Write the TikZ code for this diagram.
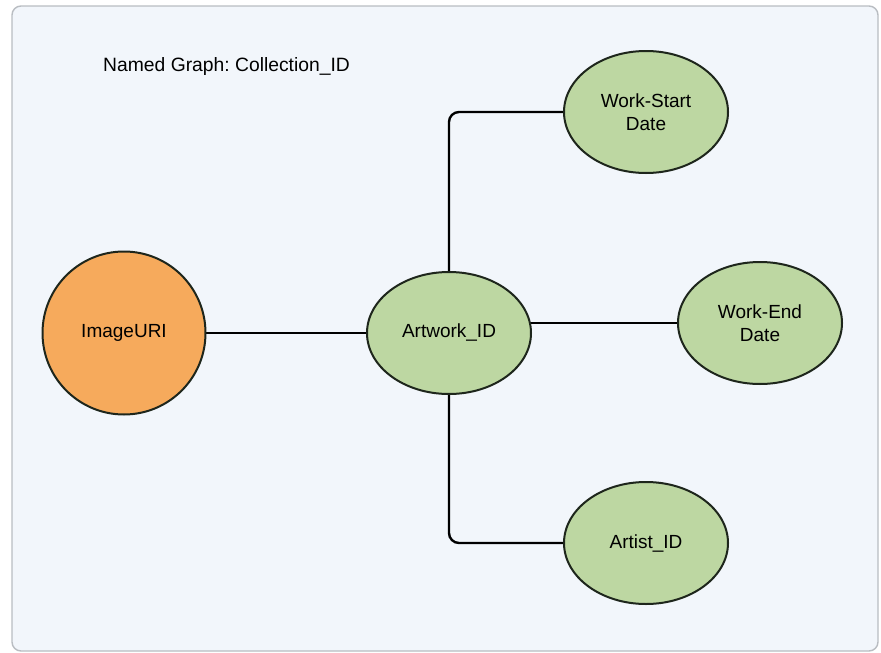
\documentclass[tikz,border=0pt]{standalone}
\usepackage{fontspec}
\setmainfont{Liberation Sans}
\usetikzlibrary{shapes.geometric,backgrounds}
\frenchspacing

\definecolor{panelfill}{HTML}{F2F6FB}
\definecolor{panelline}{HTML}{B9BDC2}
\definecolor{orangefill}{HTML}{F6AA5C}
\definecolor{greenfill}{HTML}{BDD7A2}
\definecolor{nodeline}{HTML}{1E261C}

\tikzset{
  panel/.style={draw=panelline, line width=1.4pt, fill=panelfill, rounded corners=9pt},
  resource/.style={circle, draw=nodeline, line width=2pt, fill=orangefill,
    minimum size=163pt, inner sep=0pt, font=\fontsize{19}{22.5}\selectfont},
  literal/.style={ellipse, draw=nodeline, line width=2pt, fill=greenfill,
    minimum width=164pt, minimum height=122pt, inner sep=0pt, align=center,
    font=\fontsize{19}{22.5}\selectfont},
  link/.style={draw=black, line width=2.4pt},
  elbow/.style={link, rounded corners=10pt},
  caption/.style={anchor=base west, inner sep=0pt, font=\fontsize{19.3}{23}\selectfont}
}

\begin{document}
\begin{tikzpicture}[x=1pt, y=-1pt]
  \useasboundingbox (0,0) rectangle (881,653);

  \node[caption] (title) at (103,71) {Named Graph: Collection\_ID};

  % resources
  \node[resource] (img) at (124,333) {ImageURI};
  \node[literal]  (art) at (449,333) {Artwork\_ID};
  \node[literal]  (ws)  at (646,112) {Work-Start\\Date};
  \node[literal]  (we)  at (760,323) {Work-End\\Date};
  \node[literal]  (ai)  at (646,543) {Artist\_ID};

  % page, graph panel and connectors, all kept behind the nodes
  \begin{pgfonlayer}{background}
    \fill[white] (0,0) rectangle (881,653);
    \draw[panel] (12,6) rectangle (878,651);
    \draw[link] (img.center) -- (art.center);
    \draw[link] (we.center) -- (art.center |- we.center);
    \draw[elbow] (art.center) |- (ws.center);
    \draw[elbow] (art.center) |- (ai.center);
  \end{pgfonlayer}
\end{tikzpicture}
\end{document}
